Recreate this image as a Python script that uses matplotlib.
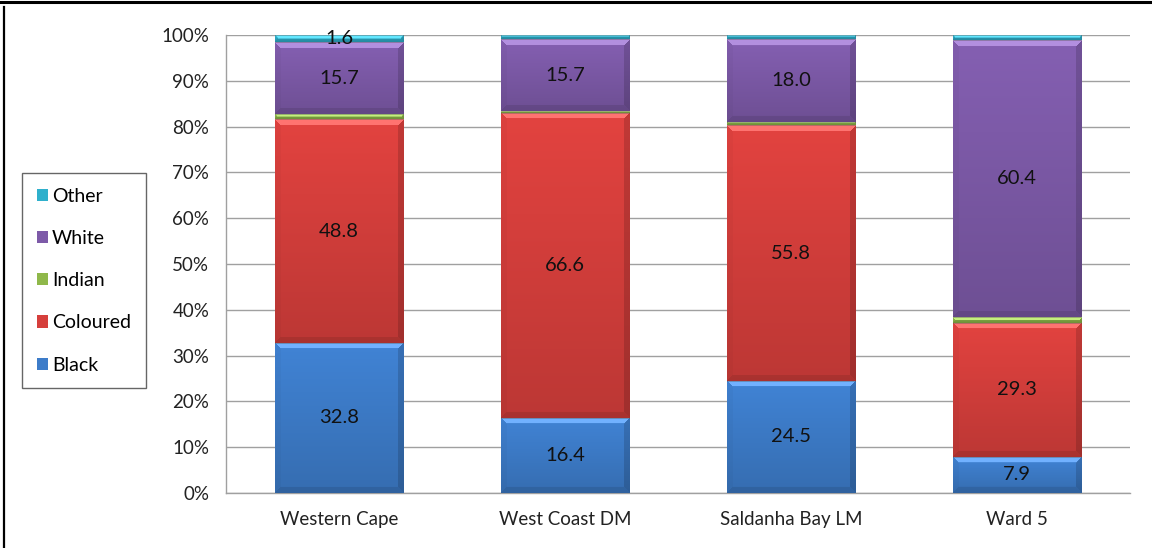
import numpy as np
import matplotlib
matplotlib.use("Agg")
import matplotlib.pyplot as plt
from matplotlib.colors import to_rgb
from matplotlib.lines import Line2D
from matplotlib.patches import Patch

plt.rcParams["font.family"] = ["Lato", "DejaVu Sans"]

areas = ["Western Cape", "West Coast DM", "Saldanha Bay LM", "Ward 5"]
groups = ["Black", "Coloured", "Indian", "White", "Other"]
black = [32.8, 16.4, 24.5, 7.9]
coloured = [48.8, 66.6, 55.8, 29.3]
indian = [1.1, 0.4, 0.8, 1.3]
white = [15.7, 15.7, 18.0, 60.4]
other = [1.6, 0.9, 0.9, 1.1]
# which segments carry a value label
shown = {
    "Black": [True, True, True, True],
    "Coloured": [True, True, True, True],
    "Indian": [False, False, False, False],
    "White": [True, True, True, True],
    "Other": [True, False, False, False],
}
yticks = [0, 10, 20, 30, 40, 50, 60, 70, 80, 90, 100]

COLORS = {"Black": "#3d7cc9", "Coloured": "#d63f3c", "Indian": "#8fb84a",
          "White": "#7d5aa8", "Other": "#2fb0cc"}
DPI = 100


def bevel(h, w, base, b=6):
    """RGBA tile with an Excel-style bevel: light top, dark right/bottom."""
    h, w = max(h, 1), max(w, 1)
    c = np.array(to_rgb(base))
    ii, jj = np.mgrid[0:h, 0:w]
    dt, db = ii, h - 1 - ii
    dl, dr = jj, w - 1 - jj
    d = np.stack([dt, db, dl, dr])
    side = d.argmin(0)
    dmin = d.min(0)
    grad = 1.06 - 0.18 * ii / max(h - 1, 1)
    fac = np.where(dmin >= b, grad, 1.0)
    fac = np.where((dmin < b) & (side == 0), 1.28, fac)
    fac = np.where((dmin < b) & (side == 1), grad * 0.9, fac)
    fac = np.where((dmin < b) & (side == 2), grad * 0.97, fac)
    fac = np.where((dmin < b) & (side == 3), grad * 0.85, fac)
    rgb = np.clip(c[None, None, :] * fac[..., None], 0, 1)
    # whiten the top facet a bit more than a plain scale would
    top = (dmin < b) & (side == 0)
    rgb[top] = np.clip(rgb[top] * 0.8 + 0.2, 0, 1)
    return np.dstack([rgb, np.ones((h, w))])


fig = plt.figure(figsize=(11.52, 5.48), dpi=DPI)
ax = fig.add_axes([226 / 1152, 55 / 548, 904 / 1152, 458 / 548])

x = np.arange(len(areas))
series = {"Black": black, "Coloured": coloured, "Indian": indian,
          "White": white, "Other": other}
bottom = np.zeros(len(areas))
bars = {}
for g in groups:
    vals = np.array(series[g])
    bars[g] = ax.bar(x, vals, 0.57, bottom=bottom, color=COLORS[g],
                     edgecolor="none", zorder=2)
    bottom += vals

ax.set_xlim(-0.5, len(areas) - 0.5)
ax.set_ylim(0, 100)
fig.canvas.draw()

# paint the bevelled face over each bar
for g in groups:
    for rect in bars[g]:
        x0, y0 = rect.get_x(), rect.get_y()
        x1, y1 = x0 + rect.get_width(), y0 + rect.get_height()
        (px0, py0), (px1, py1) = ax.transData.transform([(x0, y0), (x1, y1)])
        tile = bevel(int(round(py1 - py0)), int(round(px1 - px0)), COLORS[g])
        ax.imshow(tile, extent=[x0, x1, y0, y1], aspect="auto",
                  interpolation="bilinear", zorder=3)
        ax.plot([x0, x1], [y1, y1], color="#5a5a5a", lw=0.6, alpha=0.5,
                zorder=4)

for g in groups:
    for i, rect in enumerate(bars[g]):
        if not shown[g][i]:
            continue
        v = series[g][i]
        ax.text(rect.get_x() + rect.get_width() / 2,
                rect.get_y() + rect.get_height() / 2, f"{v:.1f}",
                ha="center", va="center", fontsize=14.5, color="#111111",
                zorder=5)

ax.set_aspect("auto")
ax.set_xlim(-0.5, len(areas) - 0.5)
ax.set_ylim(0, 100)
ax.set_yticks(yticks)
ax.set_yticklabels([f"{t}%" for t in yticks])
ax.set_xticks(x)
ax.set_xticklabels(areas)
ax.tick_params(axis="both", length=0, colors="#222222")
ax.tick_params(axis="x", pad=13, labelsize=13.5)
ax.tick_params(axis="y", pad=12, labelsize=13.5)
ax.yaxis.grid(True, color="#a0a0a0", lw=1.0, zorder=0)
ax.set_axisbelow(True)
for s in ["top", "right"]:
    ax.spines[s].set_visible(False)
for s in ["left", "bottom"]:
    ax.spines[s].set_color("#a0a0a0")
    ax.spines[s].set_linewidth(1.0)

handles = [Patch(facecolor=COLORS[g], edgecolor="none")
           for g in reversed(groups)]
leg = fig.legend(handles, list(reversed(groups)), loc="upper left",
                 bbox_to_anchor=(22 / 1152, 1 - 173 / 548), frameon=True,
                 fancybox=False, fontsize=14, handlelength=0.6,
                 handleheight=0.6, handletextpad=0.2, labelspacing=1.3,
                 borderpad=0.75, borderaxespad=0)
leg.get_frame().set_edgecolor("#404040")
leg.get_frame().set_linewidth(1.0)

# outer frame lines
fig.add_artist(Line2D([0, 1], [1 - 1.5 / 548, 1 - 1.5 / 548],
                      color="black", lw=2.2, transform=fig.transFigure))
fig.add_artist(Line2D([3.5 / 1152, 3.5 / 1152], [0, 1 - 7 / 548],
                      color="black", lw=1.6, transform=fig.transFigure))

fig.savefig("out.png", dpi=DPI)
